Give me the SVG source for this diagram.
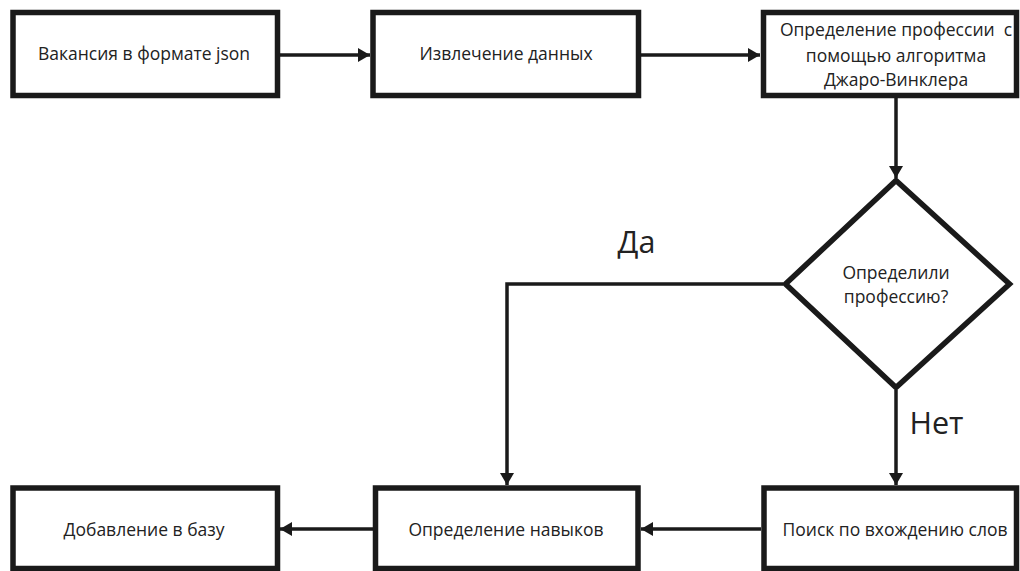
<svg xmlns="http://www.w3.org/2000/svg" width="1020" height="571" viewBox="0 0 1020 571">
<style>
.box{fill:#fff;stroke:#1a1a1a;stroke-width:5.5}
.t{font-family:"Open Sans","Noto Sans",sans-serif;font-size:17.5px;fill:#222;text-anchor:middle}
.big{font-family:"Open Sans","Noto Sans",sans-serif;font-size:30.5px;fill:#222;text-anchor:middle}
.c{fill:none;stroke:#1a1a1a;stroke-width:3.5}
</style>
<defs>
<marker id="ah" viewBox="0 0 12 14" refX="12" refY="7" markerWidth="12" markerHeight="14" markerUnits="userSpaceOnUse" orient="auto">
<path d="M0,0 L12,7 L0,14 Z" fill="#1a1a1a"/>
</marker>
</defs>
<rect width="1020" height="571" fill="#fff"/>
<g id="connectors">
<path class="c" d="M278,55 H370" marker-end="url(#ah)"/>
<path class="c" d="M641,55 H760" marker-end="url(#ah)"/>
<path class="c" d="M896,98 V178" marker-end="url(#ah)"/>
<path class="c" d="M783,284 H507 V485" marker-end="url(#ah)"/>
<path class="c" d="M896,390 V485" marker-end="url(#ah)"/>
<path class="c" d="M761,529 H641" marker-end="url(#ah)"/>
<path class="c" d="M373,529 H280" marker-end="url(#ah)"/>
<text class="big" x="636.5" y="253">Да</text>
<text class="big" x="936.5" y="434">Нет</text>
</g>
<g id="n1"><rect class="box" x="13" y="12.5" width="264.5" height="83"/><text class="t" x="144" y="60">Вакансия в формате json</text></g>
<g id="n2"><rect class="box" x="373" y="12.5" width="265.5" height="83"/><text class="t" x="506" y="60">Извлечение данных</text></g>
<g id="n3"><rect class="box" x="763.5" y="12.5" width="253" height="83"/><text class="t" x="896" y="36" xml:space="preserve">Определение профессии  с</text><text class="t" x="896" y="62">помощью алгоритма</text><text class="t" x="896" y="86">Джаро-Винклера</text></g>
<g id="n4"><path class="box" d="M896,180.5 L1009.5,284 L896,387.5 L785.5,284 Z"/><text class="t" x="896" y="279">Определили</text><text class="t" x="896" y="303">профессию?</text></g>
<g id="n5"><rect class="box" x="764" y="488" width="252.5" height="80.5"/><text class="t" x="895" y="536">Поиск по вхождению слов</text></g>
<g id="n6"><rect class="box" x="375.5" y="488" width="262.5" height="80.5"/><text class="t" x="506" y="536">Определение навыков</text></g>
<g id="n7"><rect class="box" x="13" y="488" width="264.5" height="80.5"/><text class="t" x="144" y="536">Добавление в базу</text></g>
</svg>
